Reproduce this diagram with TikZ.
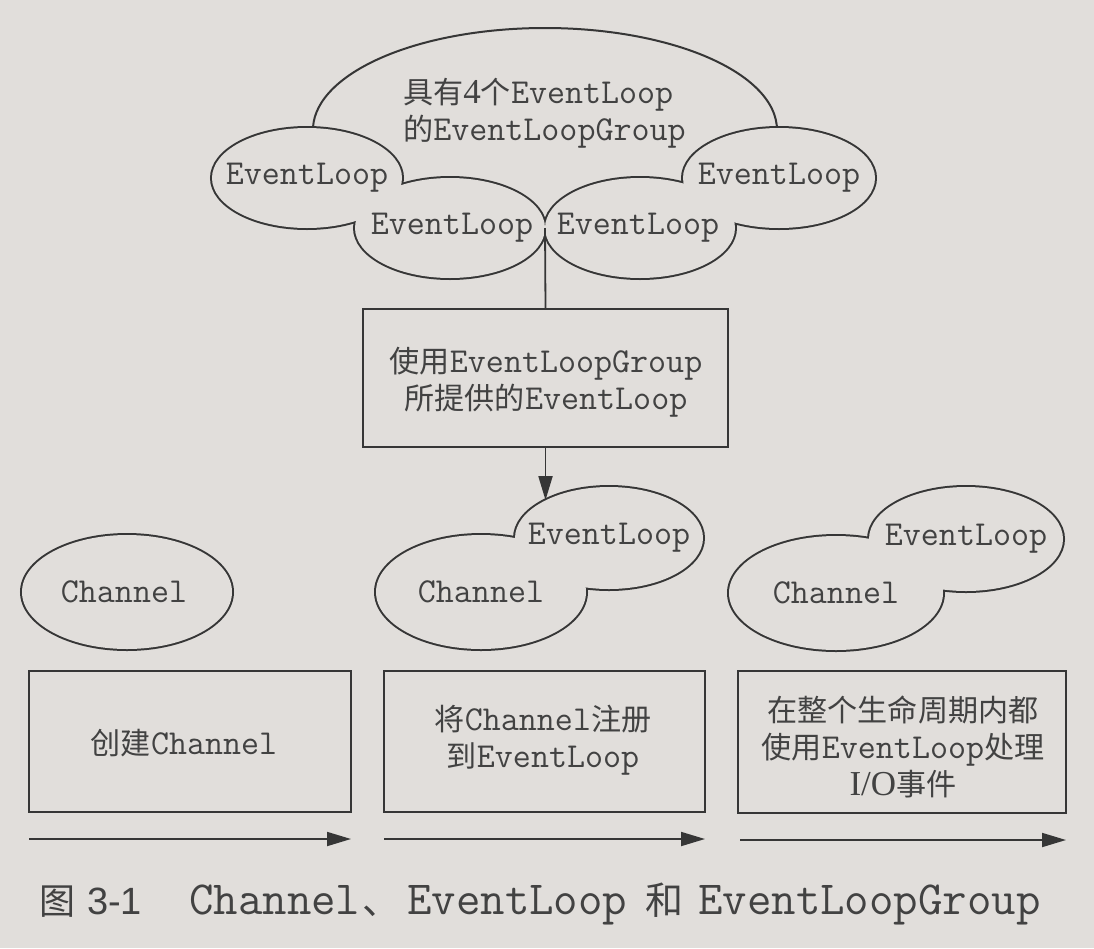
\documentclass[tikz,border=0pt]{standalone}
\usepackage{fontspec}
\newfontfamily\cjk{Noto Sans CJK SC}[Scale=0.86]
\newfontfamily\cjkc{Noto Sans CJK SC}
\newfontfamily\tms{Liberation Serif}
\newfontfamily\hv{Liberation Sans}
\usetikzlibrary{shapes.geometric,arrows.meta}
\definecolor{bg}{HTML}{E1DEDB}
\definecolor{ink}{HTML}{363636}
\definecolor{txt}{HTML}{424242}
\begin{document}
\begin{tikzpicture}[x=1pt,y=-1pt,
  blob/.style={ellipse, draw=ink, line width=4pt, inner sep=0pt, outer sep=0pt},
  lbl/.style={font=\ttfamily\fontsize{35}{37}\selectfont, text=txt, inner sep=0pt, align=center},
  box/.style={draw=ink, line width=1.8pt, inner sep=0pt, outer sep=0pt},
  boxtxt/.style={font=\ttfamily\fontsize{35}{37}\selectfont, text=txt, inner sep=0pt, align=center},
  captt/.style={anchor=base west, inner sep=0pt, text=txt, font=\ttfamily\fontsize{47.5}{48}\selectfont},
  capcjk/.style={anchor=base west, inner sep=0pt, text=txt, font=\cjkc\fontsize{38}{38}\selectfont},
  arr/.style={draw=ink, line width=1.8pt, -{Triangle[length=24pt,width=14pt]}}]

\useasboundingbox (0,0) rectangle (1094,948);
\fill[bg] (0,0) rectangle (1094,948);

% ---------- EventLoopGroup ----------
\draw[ink, line width=2pt] (545,130) ++(170:232 and 102)
  arc[start angle=170, end angle=370, x radius=232, y radius=102];
\node[blob, minimum width=190, minimum height=100] (L1) at (307,178) {};
\node[blob, minimum width=192, minimum height=100] (R1) at (779,178) {};
\node[blob, minimum width=190, minimum height=100] (M1) at (450,228) {};
\node[blob, minimum width=190, minimum height=100] (M2) at (640,228) {};
\fill[bg] (L1.center) ellipse[x radius=95, y radius=50];
\fill[bg] (R1.center) ellipse[x radius=96, y radius=50];
\fill[bg] (M1.center) ellipse[x radius=95, y radius=50];
\fill[bg] (M2.center) ellipse[x radius=95, y radius=50];
\node[lbl, anchor=west, align=left] (gt) at (403,113)
  {{\cjk 具有}{\tms 4}{\cjk 个}EventLoop\\{\cjk 的}EventLoopGroup};
\node[lbl] (l1t) at (L1.center) {EventLoop};
\node[lbl] (r1t) at (R1.center) {EventLoop};
\node[lbl] (m1t) at ([xshift=2pt]M1.center) {EventLoop};
\node[lbl] (m2t) at ([xshift=-2pt]M2.center) {EventLoop};

% ---------- middle box ----------
\node[box, minimum width=365, minimum height=138] (B0) at (545.5,378) {};
\node[boxtxt] (b0t) at (546,382) {{\cjk 使用}EventLoopGroup\\{\cjk 所提供的}EventLoop};
\draw[ink, line width=1.8pt] (M1.east) -- (B0.north);

% ---------- Channels ----------
\node[blob, minimum width=210, minimum height=114] (C1) at (127,592) {};
\fill[bg] (C1.center) ellipse[x radius=105, y radius=57];
\node[lbl] (c1t) at ([xshift=-3pt]C1.center) {Channel};

\node[blob, minimum width=210, minimum height=114] (C2) at (481,592) {};
\node[blob, minimum width=188, minimum height=102] (E2) at (609,538) {};
\fill[bg] (C2.center) ellipse[x radius=105, y radius=57];
\fill[bg] (E2.center) ellipse[x radius=94, y radius=51];
\node[lbl] (c2t) at (C2.center) {Channel};
\node[lbl] (e2t) at (E2.center) {EventLoop};

\node[blob, minimum width=214, minimum height=114] (C3) at (836,593) {};
\node[blob, minimum width=194, minimum height=104] (E3) at (966,539) {};
\fill[bg] (C3.center) ellipse[x radius=107, y radius=57];
\fill[bg] (E3.center) ellipse[x radius=97, y radius=52];
\node[lbl] (c3t) at (C3.center) {Channel};
\node[lbl] (e3t) at (E3.center) {EventLoop};

\draw[arr] (B0.south) -- (B0.south |- E2.149);

% ---------- step boxes ----------
\node[box, minimum width=322, minimum height=141] (S1) at (190,741.5) {};
\node[box, minimum width=321, minimum height=141] (S2) at (544.5,741.5) {};
\node[box, minimum width=328, minimum height=142] (S3) at (902,742) {};
\node[boxtxt] (s1t) at (184,743) {{\cjk 创建}Channel};
\node[boxtxt] (s2t) at (543,740) {{\cjk 将}Channel{\cjk 注册}\\{\cjk 到}EventLoop};
\node[boxtxt] (s3t) at (903,747) {{\cjk 在整个生命周期内都}\\{\cjk 使用}EventLoop{\cjk 处理}\\{\tms I/O}{\cjk 事件}};

\draw[arr] ([yshift=-27pt]S1.south west) -- ([yshift=-27pt]S1.south east);
\draw[arr] ([yshift=-27pt]S2.south west) -- ([yshift=-27pt]S2.south east);
\draw[arr] ([yshift=-27pt,xshift=2pt]S3.south west) -- ([yshift=-27pt]S3.south east);

% ---------- caption ----------
\node[anchor=base west, inner sep=0pt, text=txt, font=\cjkc\fontsize{36}{36}\selectfont] (cf) at (39,914) {图};
\node[anchor=base west, inner sep=0pt, text=txt, font=\hv\fontsize{38}{38}\selectfont] (cn) at (87,914) {3-1};
\node[captt] (ct1) at (189,914) {Channel};
\node[capcjk] (ct2) at (362,914) {、};
\node[captt] (ct3) at (407,914) {EventLoop};
\node[capcjk] (ct4) at (645,914) {和};
\node[captt] (ct5) at (698,914) {EventLoopGroup};
\end{tikzpicture}
\end{document}
